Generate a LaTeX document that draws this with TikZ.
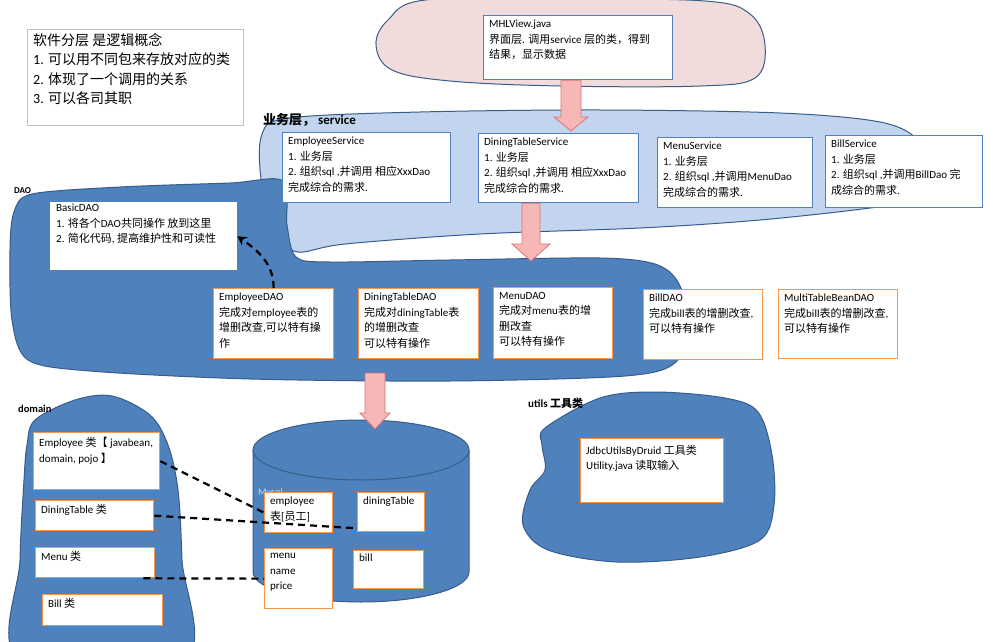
\documentclass[tikz,border=0pt]{standalone}
\usepackage{fontspec}
\setmainfont{Carlito}
\newfontfamily\latinfont{Carlito}
\newfontfamily\cjkfont{Noto Sans CJK SC}
\usetikzlibrary{calc,arrows.meta}
% automatic switching to the CJK font for CJK characters
\XeTeXinterchartokenstate=1
\chardef\cjkcls=10
\makeatletter
\count@="3000
\loop \XeTeXcharclass\count@=\cjkcls \advance\count@ by 1 \ifnum\count@<"3040 \repeat
\count@="4E00
\loop \XeTeXcharclass\count@=\cjkcls \advance\count@ by 1 \ifnum\count@<"A000 \repeat
\count@="FF00
\loop \XeTeXcharclass\count@=\cjkcls \advance\count@ by 1 \ifnum\count@<"FFF0 \repeat
\makeatother
\XeTeXinterchartoks 0 \cjkcls = {\cjkfont}
\XeTeXinterchartoks 4095 \cjkcls = {\cjkfont}
\XeTeXinterchartoks \cjkcls 0 = {\latinfont}
\XeTeXinterchartoks \cjkcls 4095 = {\latinfont}

\definecolor{daoblue}{HTML}{4F81BD}
\definecolor{blobedge}{HTML}{385D8A}
\definecolor{servfill}{HTML}{C3D5EE}
\definecolor{pinkfill}{HTML}{F2DCDB}
\definecolor{boxblue}{HTML}{4F81BD}
\definecolor{orng}{HTML}{F79646}
\definecolor{arrowfill}{HTML}{F7B7B7}
\definecolor{arrowedge}{HTML}{D97474}
\definecolor{graybox}{HTML}{C0C0C0}
\definecolor{mysqltxt}{HTML}{C9D8EC}

\tikzset{
  frame/.style={draw, fill=white, line width=1.3pt, inner sep=0pt},
  bluebox/.style={frame, draw=boxblue},
  orbox/.style={frame, draw=orng},
  graybx/.style={frame, draw=graybox, line width=1pt},
  plainbox/.style={fill=white, inner sep=0pt},
  txt/.style={anchor=north west, align=left, inner sep=0pt, font=\fontsize{11}{15.5}\selectfont},
  blob/.style={draw=blobedge, line width=1pt},
  parrow/.style={fill=arrowfill, draw=arrowedge, line width=0.8pt, line join=miter},
  dline/.style={draw=black, line width=2.2pt, dash pattern=on 7pt off 5pt},
  dasharrow/.style={dline, -{Stealth[length=9pt,width=10pt]}},
  lbl/.style={anchor=west, inner sep=0pt, font=\bfseries\fontsize{#1}{#1}\selectfont},
}

% style, name, x1, y1, x2, y2, text y-offset, text
\newcommand\mybox[8]{%
  \node[#1, minimum width=#5pt-#3pt, minimum height=#6pt-#4pt, anchor=north west] (#2) at (#3,#4) {};
  \node[txt] (#2-t) at ([shift={(6pt,-#7pt)}]#2.north west) {#8};}

% start, end, shaft half width, head half width, head length
\newcommand\blockarrow[5]{%
  \draw[parrow] let \p1=(#1), \p2=(#2) in
    (\x1-#3pt,\y1) -- (\x1+#3pt,\y1) -- (\x1+#3pt,\y2+#5pt) -- (\x1+#4pt,\y2+#5pt)
    -- (\x1,\y2) -- (\x1-#4pt,\y2+#5pt) -- (\x1-#3pt,\y2+#5pt) -- cycle;}

\begin{document}
\begin{tikzpicture}[x=1pt,y=-1pt]
\useasboundingbox (0,0) rectangle (993,642);
\fill[white] (0,0) rectangle (993,642);

\begin{scope}
\clip (0,0) rectangle (993,642);
% view layer blob
\draw[blob, fill=pinkfill] plot[smooth cycle, tension=0.6] coordinates
  {(425,0) (388,20) (376,45) (392,70) (450,81) (560,86) (700,86) (755,78) (765,45) (750,14) (705,1) (560,-1)};
% service blob
\draw[blob, fill=servfill] plot[smooth cycle, tension=0.55] coordinates
  {(262,134) (290,118) (420,112) (600,110) (780,113) (880,122) (918,140) (928,170) (910,200) (870,208) (760,220) (640,228) (480,234) (345,244) (298,252) (280,235) (262,185)};
% DAO blob
\draw[blob, fill=daoblue] plot[smooth cycle, tension=0.5] coordinates
  {(32,194) (120,187) (230,183) (283,181) (287,225) (296,257) (330,262) (450,260) (600,258) (655,264) (678,282) (688,320) (676,362) (625,376) (450,381) (250,379) (90,371) (28,360) (12,320) (10,250) (14,212)};
% domain blob
\draw[blob, fill=daoblue] plot[smooth cycle, tension=0.55] coordinates
  {(35,420) (75,400) (112,396) (150,415) (168,445) (178,490) (182,560) (184,660) (20,660) (20,560) (24,480) (27,445)};
% utils blob
\draw[blob, fill=daoblue] plot[smooth cycle, tension=0.55] coordinates
  {(545,428) (600,398) (655,392) (725,398) (758,412) (772,455) (774,505) (760,540) (700,557) (617,562) (548,550) (523,525) (530,490) (545,470) (542,445)};
\end{scope}

% database cylinder
\fill[daoblue] (253,450) -- (253,572) arc[start angle=180, end angle=360, x radius=108pt, y radius=30pt] -- (469,450) -- cycle;
\draw[blob] (253,450) -- (253,572) arc[start angle=180, end angle=360, x radius=108pt, y radius=30pt] -- (469,450);
\draw[blob, fill=daoblue] (361,450) ellipse [x radius=108pt, y radius=30pt];
\node[font=\fontsize{10}{12}\selectfont, text=mysqltxt, anchor=south west, inner sep=0pt] (mysql) at (258,497) {Mysql};

% labels
\node[lbl=13] (svclabel) at (263,120) {业务层， service};
\node[lbl=9] (daolabel) at (14,191) {DAO};
\node[lbl=10.5] (domlabel) at (18,409) {domain};
\node[lbl=11] (utillabel) at (528,403) {utils 工具类};

% note box
\node[graybx, minimum width=216pt, minimum height=96pt, anchor=north west] (note) at (27,29) {};
\node[txt, font=\fontsize{14}{19.5}\selectfont] (note-t) at ([shift={(6pt,-4pt)}]note.north west)
  {软件分层 是逻辑概念\\1. 可以用不同包来存放对应的类\\2. 体现了一个调用的关系\\3. 可以各司其职};

% view
\mybox{bluebox}{mhl}{483}{15}{672}{79}{5}{MHLView.java\\界面层. 调用service 层的类，得到\\结果，显示数据}

% services
\mybox{bluebox}{es}{282}{132}{450}{202}{5}{EmployeeService\\1. 业务层\\2. 组织sql ,并调用 相应XxxDao\\完成综合的需求.}
\mybox{bluebox}{dts}{478}{133}{638}{202}{5}{DiningTableService\\1. 业务层\\2. 组织sql ,并调用 相应XxxDao\\完成综合的需求.}
\mybox{bluebox}{ms}{657}{137}{812}{207}{5}{MenuService\\1. 业务层\\2. 组织sql ,并调用MenuDao\\完成综合的需求.}
\mybox{bluebox}{bs}{825}{135}{982}{207}{5}{BillService\\1. 业务层\\2. 组织sql ,并调用BillDao 完\\成综合的需求.}

% DAOs
\mybox{plainbox}{basic}{50}{202}{237}{270}{2}{BasicDAO\\1. 将各个DAO共同操作 放到这里\\2. 简化代码, 提高维护性和可读性}
\mybox{orbox}{edao}{213}{288}{333}{358}{5}{EmployeeDAO\\完成对employee表的\\增删改查,可以特有操\\作}
\mybox{orbox}{dtdao}{358}{288}{478}{358}{5}{DiningTableDAO\\完成对diningTable表\\的增删改查\\可以特有操作}
\mybox{orbox}{mdao}{493}{287}{612}{358}{5}{MenuDAO\\完成对menu表的增\\删改查\\可以特有操作}
\mybox{orbox}{bdao}{643}{289}{762}{359}{5}{BillDAO\\完成bill表的增删改查,\\可以特有操作}
\mybox{orbox}{mtdao}{778}{289}{897}{358}{5}{MultiTableBeanDAO\\完成bill表的增删改查,\\可以特有操作}

% domain
\mybox{orbox}{empc}{33}{432}{159}{489}{5}{Employee 类【 javabean,\\domain, pojo 】}
\mybox{orbox}{dtc}{35}{500}{153}{530}{4}{DiningTable 类}
\mybox{orbox}{menuc}{35}{547}{154}{577}{4}{Menu 类}
\mybox{orbox}{billc}{42}{594}{162}{625}{4}{Bill 类}

% tables in the database
\mybox{orbox}{etab}{264}{492}{332}{532}{5}{employee\\表[员工]}
\mybox{orbox}{dtab}{357}{492}{424}{531}{5}{diningTable}
\mybox{orbox}{mtab}{264}{548}{332}{608}{5}{menu\\name\\price}
\mybox{orbox}{btab}{353}{550}{423}{588}{4}{bill}

% utils
\mybox{orbox}{util}{580}{438}{723}{502}{7}{JdbcUtilsByDruid 工具类\\Utility.java 读取输入}

% block arrows
\coordinate (a1e) at (571,131);
\blockarrow{a1e |- mhl.south}{a1e}{10}{17}{14}
\coordinate (a2e) at (531,261);
\blockarrow{a2e |- dts.south}{a2e}{9}{19}{17}
\coordinate (a3s) at (375,373);
\coordinate (dbtop) at (375,429);
\blockarrow{a3s}{dbtop}{10}{15}{16}

% dashed connectors
\draw[dasharrow] (edao.north) to[out=90, in=-35] (basic.east);
\draw[dline] (empc.east) -- (etab.west);
\draw[dline] (dtc.east) -- ([yshift=4pt]dtab.south west);
\draw[dline] ([xshift=-12pt]menuc.south east) -- (mtab.west);
\end{tikzpicture}
\end{document}
